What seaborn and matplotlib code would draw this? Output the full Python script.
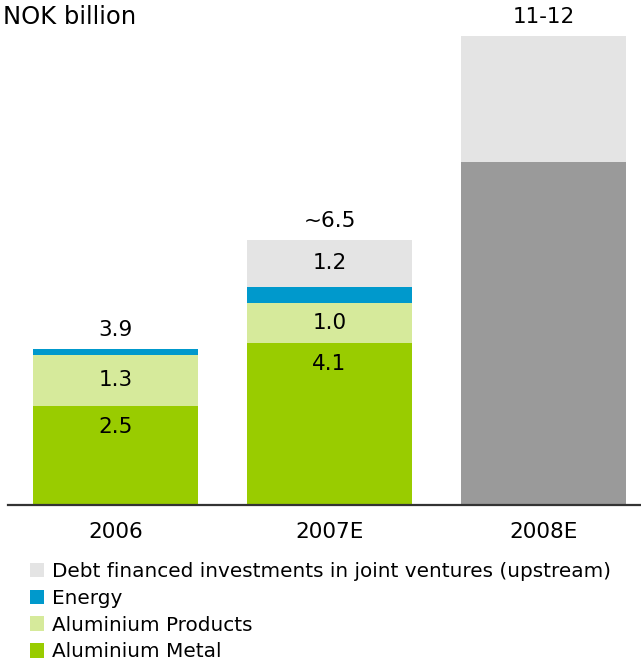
import numpy as np
import matplotlib
matplotlib.use('Agg')
import matplotlib.pyplot as plt
import seaborn as sns
from matplotlib.patches import Patch

# chart data
years = ['2006', '2007E', '2008E']
metal = [2.5, 4.1, 0.0]
products = [1.3, 1.0, 0.0]
energy = [0.15, 0.4, 0.0]
unsplit = [0.0, 0.0, 8.65]   # dark grey block in 2008E, no legend entry
debt = [0.0, 1.2, 3.2]
metal_labels = ['2.5', '4.1', '']
products_labels = ['1.3', '1.0', '']
debt_labels = ['', '1.2', '']
total_labels = ['3.9', '~6.5', '11-12']

legend_names = ['Debt financed investments in joint ventures (upstream)',
                'Energy', 'Aluminium Products', 'Aluminium Metal']

c_metal = '#99CC00'
c_products = '#D6EA9B'
c_energy = '#0099CC'
c_debt = '#E4E4E4'
c_unsplit = '#9A9A9A'

W, H = 641, 661
fig = plt.figure(figsize=(W / 100, H / 100), dpi=100)
ax = fig.add_axes([0, 156 / H, 1, 505 / H])

# stacked from the bottom up
layers = [(metal, c_metal), (products, c_products), (energy, c_energy),
          (unsplit, c_unsplit), (debt, c_debt)]
bottom = np.zeros(len(years))
for vals, col in layers:
    sns.barplot(x=years, y=vals, order=years, color=col, saturation=1,
                width=0.771, linewidth=0, errorbar=None, bottom=bottom.copy(), ax=ax)
    bottom = bottom + np.array(vals)

ax.set_xlim(-115.5 / 214, (W - 115.5) / 214)
ax.set_ylim(0, 505 / 39.6)

fs = 15.5
# segment labels
for i in range(len(years)):
    if metal_labels[i]:
        ax.annotate(metal_labels[i], (i, metal[i]), xytext=(0, -21), textcoords='offset pixels',
                    ha='center', va='center', fontsize=fs)
    if products_labels[i]:
        ax.text(i, metal[i] + products[i] / 2, products_labels[i], ha='center', va='center', fontsize=fs)
    if debt_labels[i]:
        y0 = metal[i] + products[i] + energy[i] + unsplit[i]
        ax.text(i, y0 + debt[i] / 2, debt_labels[i], ha='center', va='center', fontsize=fs)
    ax.annotate(total_labels[i], (i, bottom[i]), xytext=(0, 19), textcoords='offset pixels',
                ha='center', va='center', fontsize=fs)

for s in ax.spines.values():
    s.set_visible(False)
ax.axhline(0, xmin=8 / W, xmax=1, color='#333333', lw=1.6, clip_on=False)
ax.set_yticks([])
ax.set_xlabel('')
ax.tick_params(axis='x', length=0, pad=12, labelsize=fs)

fig.text(3 / W, 1 - 17 / H, 'NOK billion', fontsize=17.5, va='center', ha='left')

handles = [Patch(facecolor=c, edgecolor='none') for c in [c_debt, c_energy, c_products, c_metal]]
fig.legend(handles, legend_names, loc='upper left', bbox_to_anchor=(30 / W, 1 - 562 / H),
           frameon=False, fontsize=14.4, handlelength=0.72, handleheight=0.72,
           handletextpad=0.4, labelspacing=0.39, borderpad=0, borderaxespad=0)

fig.savefig('out.png', dpi=100)
